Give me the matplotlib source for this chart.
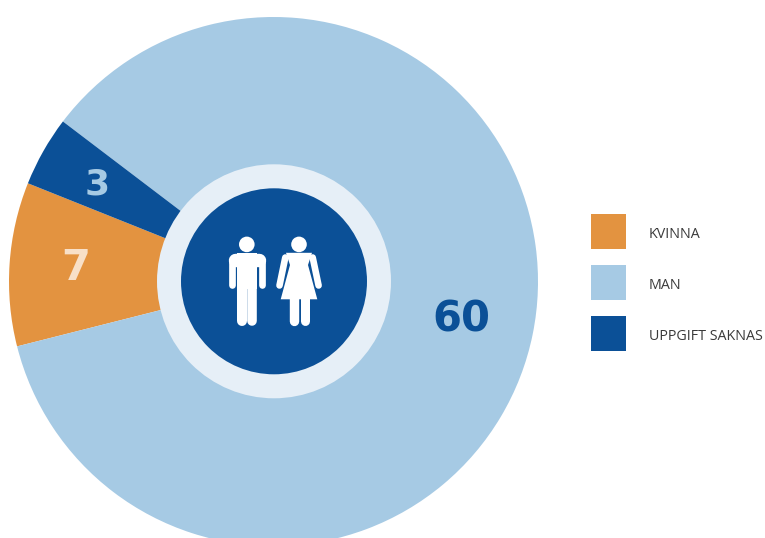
import matplotlib
matplotlib.use("Agg")
import matplotlib.pyplot as plt
from matplotlib.patches import Circle, Rectangle, Polygon

categories = ["KVINNA", "MAN", "UPPGIFT SAKNAS"]
values = [7, 60, 3]
colors = ["#E39340", "#A6CAE4", "#0B5097"]
label_colors = ["#F8E0C8", "#0B5097", "#A6CAE4"]
label_pos = [(75.5, 280), (461, 331), (97.5, 194.5)]
label_sizes = [30, 30, 26]

W, H = 765, 538
fig = plt.figure(figsize=(W / 100, H / 100), dpi=100, facecolor="white")
ax = fig.add_axes([0, 0, 1, 1])
Y = lambda py: H - py
CX, CY, R = 273.5, Y(281.5), 264.5

ax.pie(values, colors=colors, startangle=158.2, counterclock=True,
       center=(CX, CY), radius=R, frame=True,
       wedgeprops=dict(linewidth=0))
ax.set_xlim(0, W)
ax.set_ylim(0, H)
ax.set_aspect("equal")
ax.axis("off")

ax.add_patch(Circle((274, Y(281.3)), 117, fc="#E6EFF7", ec="none", zorder=3))
ax.add_patch(Circle((274, Y(281.3)), 93, fc="#0B5097", ec="none", zorder=4))

# value labels
for v, c, (px, py), s in zip(values, label_colors, label_pos, label_sizes):
    ax.text(px, Y(py), str(v), color=c, fontsize=s, fontweight="bold",
            family="DejaVu Sans", ha="center", va="baseline", zorder=5)

# legend
for i, (name, c) in enumerate(zip(categories, colors)):
    top = 214 + 51 * i
    ax.add_patch(Rectangle((591, Y(top + 35)), 35, 35, fc=c, ec="none"))
    ax.text(649, Y(top + 23.7), name, color="#3A3A3A", fontsize=10.3,
            family="Open Sans", ha="left", va="baseline")


def limb(xs, ys, w):
    ax.plot(xs, [Y(y) for y in ys], color="white", lw=w * 0.72,
            solid_capstyle="round", zorder=6)


def poly(pts):
    ax.add_patch(Polygon([(x, Y(y)) for x, y in pts], fc="white", ec="none", zorder=6))


# man icon
ax.add_patch(Circle((246.8, Y(244.4)), 7.8, fc="white", ec="none", zorder=6))
limb([235, 259], [259.5, 259.5], 13.4)
poly([(236.7, 253), (257.3, 253), (257.3, 288.5), (236.7, 288.5)])
limb([231.7, 231.7], [259.5, 284.7], 6.7)
limb([262.3, 262.3], [259.5, 284.7], 6.7)
limb([241.7, 241.7], [288, 321], 10)
limb([252.5, 252.5], [288, 321], 9.6)

# woman icon
ax.add_patch(Circle((299, Y(244.4)), 7.8, fc="white", ec="none", zorder=6))
poly([(286, 252.8), (312, 252.8), (308, 265), (317.3, 299.3), (280.7, 299.3), (290, 265)])
limb([285.3, 279.5], [257.5, 285.5], 6.6)
limb([312.7, 318.6], [257.5, 285.5], 6.6)
limb([293.7, 293.7], [295, 321.3], 9.4)
limb([304.7, 304.7], [295, 321.3], 9.0)

fig.savefig("out.png", dpi=100, facecolor="white")
